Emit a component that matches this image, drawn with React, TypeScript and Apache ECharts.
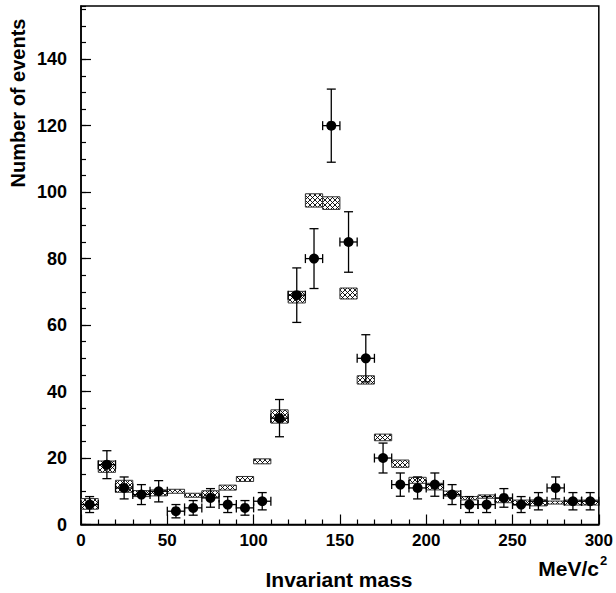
import React, { useEffect, useRef } from "react";
import * as echarts from "echarts";

// Bin centres (MeV/c^2), bin width 10
const binCenters = [5, 15, 25, 35, 45, 55, 65, 75, 85, 95, 105, 115, 125, 135, 145, 155, 165, 175, 185, 195, 205, 215, 225, 235, 245, 255, 265, 275, 285, 295];
const binHalfWidth = 5;

// Measured number of events (black points) and their vertical errors
const counts = [6, 18, 11, 9, 10, 4, 5, 8, 6, 5, 7, 32, 69, 80, 120, 85, 50, 20, 12, 11, 12, 9, 6, 6, 8, 6, 7, 11, 7, 7];
const countErrors = [2.4, 4.2, 3.3, 3.0, 3.2, 2.0, 2.2, 2.8, 2.4, 2.2, 2.6, 5.6, 8.2, 9.0, 11.0, 9.1, 7.1, 4.5, 3.5, 3.3, 3.5, 3.0, 2.4, 2.4, 2.8, 2.4, 2.6, 3.3, 2.6, 2.6];

// Expected distribution (hatched boxes): centre value and half height of the band
const expected = [6.2, 17.4, 11.5, 9.3, 9.5, 10.0, 8.8, 9.2, 11.1, 13.7, 19.0, 32.5, 68.4, 97.5, 96.7, 69.5, 43.5, 26.2, 18.3, 13.3, 11.4, 9.3, 7.9, 8.4, 7.2, 6.6, 6.5, 6.6, 6.6, 6.6];
const expectedErrors = [1.6, 1.7, 1.8, 0.9, 0.9, 0.6, 0.6, 0.95, 0.75, 0.75, 0.75, 2.0, 1.75, 2.0, 1.9, 1.65, 1.25, 1.0, 1.1, 0.9, 1.0, 0.75, 0.5, 0.5, 0.65, 0.75, 0.9, 0.45, 0.75, 0.75];

const xMin = 0;
const xMax = 300;
const xInterval = 50;
const yMin = 0;
const yMax = 156;
const yMajor = 20;
const yMinor = 5;

const xTitle = "Invariant mass";
const xUnit = "MeV/c";
const xUnitSup = "2";
const yTitle = "Number of events";

const FONT = '"Liberation Sans", Arial, Helvetica, sans-serif';

function makeHatch(): HTMLCanvasElement {
  const s = 5;
  const c = document.createElement("canvas");
  c.width = s;
  c.height = s;
  const ctx = c.getContext("2d")!;
  ctx.fillStyle = "#ffffff";
  ctx.fillRect(0, 0, s, s);
  ctx.strokeStyle = "#000000";
  ctx.lineWidth = 0.9;
  ctx.beginPath();
  ctx.moveTo(0, 0);
  ctx.lineTo(s, s);
  ctx.moveTo(s, 0);
  ctx.lineTo(0, s);
  ctx.stroke();
  return c;
}

export default function App() {
  const ref = useRef<HTMLDivElement>(null);

  useEffect(() => {
    if (!ref.current) return;
    const chart = echarts.init(ref.current, undefined, { renderer: "svg" });
    const hatch = makeHatch();

    const boxData = binCenters.map((x, i) => [x, expected[i], expectedErrors[i]]);
    const pointData = binCenters.map((x, i) => [x, counts[i], countErrors[i]]);

    const option: any = {
      animation: false,
      backgroundColor: "#ffffff",
      grid: {
        left: 81,
        top: 6,
        width: 520,
        height: 518.5,
        show: true,
        borderColor: "#000",
        borderWidth: 1.5,
        backgroundColor: "transparent",
      },
      xAxis: {
        type: "value",
        min: xMin,
        max: xMax,
        interval: xInterval,
        axisLine: { show: true, onZero: false, lineStyle: { color: "#000", width: 1.5 } },
        axisTick: { show: true, inside: true, length: 10, lineStyle: { color: "#000", width: 1.2 } },
        minorTick: { show: true, splitNumber: 5, length: 5, lineStyle: { color: "#000", width: 1.2 } },
        splitLine: { show: false },
        axisLabel: { color: "#000", fontFamily: FONT, fontWeight: "bold", fontSize: 17, margin: 7 },
      },
      yAxis: [
        {
          type: "value",
          position: "left",
          min: yMin,
          max: yMax,
          interval: yMinor,
          axisLine: { show: true, onZero: false, lineStyle: { color: "#000", width: 1.5 } },
          axisTick: { show: true, inside: true, length: 5, lineStyle: { color: "#000", width: 1.2 } },
          axisLabel: { show: false },
          splitLine: { show: false },
        },
        {
          type: "value",
          position: "left",
          min: yMin,
          max: yMax,
          interval: yMajor,
          axisLine: { show: false },
          axisTick: { show: true, inside: true, length: 10, lineStyle: { color: "#000", width: 1.2 } },
          axisLabel: {
            color: "#000",
            fontFamily: FONT,
            fontWeight: "bold",
            fontSize: 18,
            margin: 14,
            showMaxLabel: false,
          },
          splitLine: { show: false },
        },
      ],
      series: [
        {
          type: "custom",
          name: "expected",
          yAxisIndex: 0,
          data: boxData,
          z: 2,
          renderItem: (params: any, api: any) => {
            const x = api.value(0);
            const y = api.value(1);
            const e = api.value(2);
            const p1 = api.coord([x - binHalfWidth, y + e]);
            const p2 = api.coord([x + binHalfWidth, y - e]);
            return {
              type: "rect",
              shape: { x: p1[0], y: p1[1], width: p2[0] - p1[0], height: p2[1] - p1[1] },
              style: {
                fill: { image: hatch, repeat: "repeat" },
                stroke: "#333",
                lineWidth: 1,
              },
            };
          },
        },
        {
          type: "custom",
          name: "data",
          yAxisIndex: 0,
          data: pointData,
          z: 3,
          renderItem: (params: any, api: any) => {
            const x = api.value(0);
            const y = api.value(1);
            const e = api.value(2);
            const c = api.coord([x, y]);
            const t = api.coord([x, y + e]);
            const b = api.coord([x, y - e]);
            const l = api.coord([x - binHalfWidth, y]);
            const r = api.coord([x + binHalfWidth, y]);
            const cap = 4.5;
            const ls = { stroke: "#000", lineWidth: 1.3 };
            return {
              type: "group",
              children: [
                { type: "line", shape: { x1: c[0], y1: t[1], x2: c[0], y2: b[1] }, style: ls },
                { type: "line", shape: { x1: c[0] - cap, y1: t[1], x2: c[0] + cap, y2: t[1] }, style: ls },
                { type: "line", shape: { x1: c[0] - cap, y1: b[1], x2: c[0] + cap, y2: b[1] }, style: ls },
                { type: "line", shape: { x1: l[0], y1: c[1], x2: r[0], y2: c[1] }, style: ls },
                { type: "line", shape: { x1: l[0], y1: c[1] - cap, x2: l[0], y2: c[1] + cap }, style: ls },
                { type: "line", shape: { x1: r[0], y1: c[1] - cap, x2: r[0], y2: c[1] + cap }, style: ls },
                { type: "circle", shape: { cx: c[0], cy: c[1], r: 5 }, style: { fill: "#000" } },
              ],
            };
          },
        },
      ],
      graphic: [
        {
          type: "text",
          x: 339,
          y: 579,
          style: {
            text: xTitle,
            font: `bold 21px ${FONT}`,
            fill: "#000",
            align: "center",
            verticalAlign: "middle",
            textAlign: "center",
            textVerticalAlign: "middle",
          },
        },
        {
          type: "text",
          x: 599,
          y: 568,
          style: {
            text: xUnit,
            font: `bold 21px ${FONT}`,
            fill: "#000",
            align: "right",
            verticalAlign: "middle",
            textAlign: "right",
            textVerticalAlign: "middle",
          },
        },
        {
          type: "text",
          x: 600,
          y: 560,
          style: {
            text: xUnitSup,
            font: `bold 13px ${FONT}`,
            fill: "#000",
            align: "left",
            verticalAlign: "middle",
            textAlign: "left",
            textVerticalAlign: "middle",
          },
        },
        {
          type: "text",
          x: 18,
          y: 103,
          rotation: Math.PI / 2,
          style: {
            text: yTitle,
            font: `bold 20px ${FONT}`,
            fill: "#000",
            align: "center",
            verticalAlign: "middle",
            textAlign: "center",
            textVerticalAlign: "middle",
          },
        },
      ],
    };

    chart.setOption(option);
    return () => {
      chart.dispose();
    };
  }, []);

  return (
    <div
      ref={ref}
      style={{ position: "fixed", left: 0, top: 0, width: 616, height: 593, background: "#fff" }}
    />
  );
}
